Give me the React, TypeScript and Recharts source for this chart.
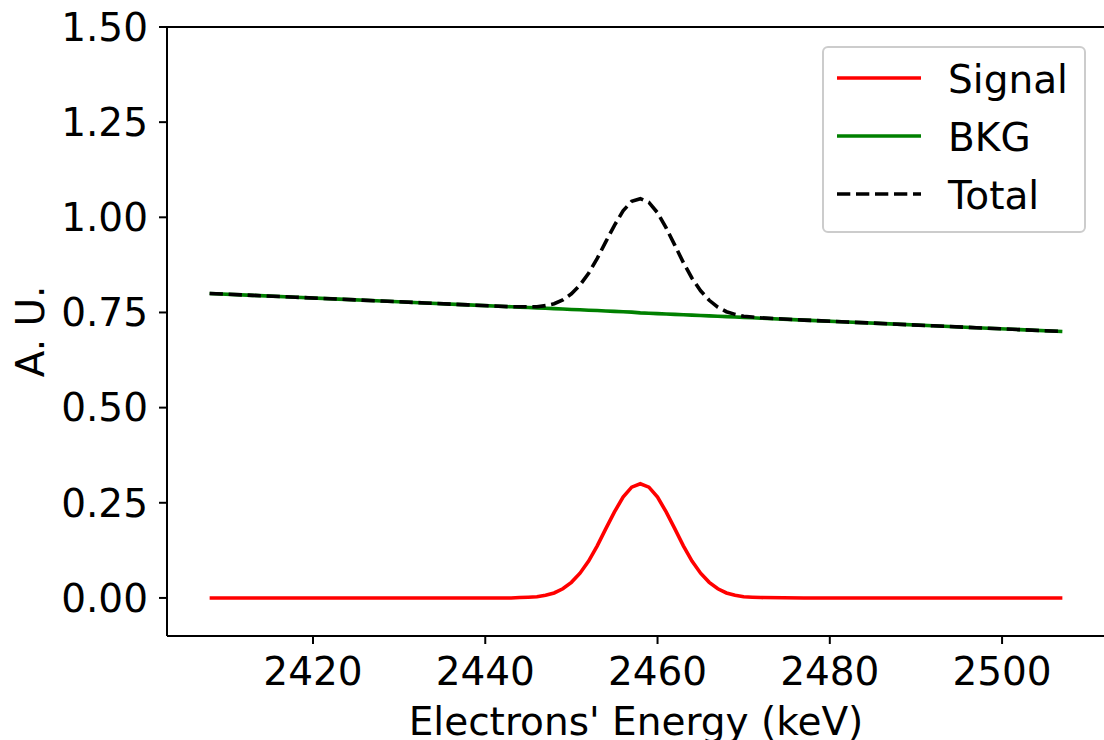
import React from "react";
import {
  Legend,
  Line,
  LineChart,
  ReferenceLine,
  XAxis,
  YAxis,
} from "recharts";

// energy grid (keV), denser around the peak
const energies = [
  2408, 2413, 2418, 2423, 2428, 2433, 2438, 2443,
  2444, 2445, 2446, 2447, 2448, 2449, 2450, 2451, 2452, 2453,
  2454, 2455, 2456, 2457, 2458, 2459, 2460, 2461, 2462, 2463,
  2464, 2465, 2466, 2467, 2468, 2469, 2470, 2471, 2472,
  2477, 2482, 2487, 2492, 2497, 2502, 2507,
];

const signalValues = [
  0, 0, 0, 0, 0, 0, 0, 0,
  0.001, 0.002, 0.003, 0.007, 0.013, 0.024, 0.041, 0.065, 0.097, 0.137,
  0.182, 0.226, 0.265, 0.291, 0.3, 0.291, 0.265, 0.226, 0.182, 0.137,
  0.097, 0.065, 0.041, 0.024, 0.013, 0.007, 0.003, 0.002, 0.001,
  0, 0, 0, 0, 0, 0, 0,
];

const bkgValues = [
  0.8, 0.795, 0.79, 0.785, 0.78, 0.775, 0.77, 0.765,
  0.764, 0.763, 0.762, 0.761, 0.76, 0.759, 0.758, 0.757, 0.756, 0.755,
  0.754, 0.753, 0.752, 0.751, 0.749, 0.748, 0.747, 0.746, 0.745, 0.744,
  0.743, 0.742, 0.741, 0.74, 0.739, 0.738, 0.737, 0.736, 0.735,
  0.73, 0.725, 0.72, 0.715, 0.71, 0.705, 0.7,
];

const totalValues = [
  0.8, 0.795, 0.79, 0.785, 0.78, 0.775, 0.77, 0.765,
  0.765, 0.765, 0.765, 0.768, 0.773, 0.783, 0.799, 0.822, 0.853, 0.892,
  0.936, 0.979, 1.017, 1.042, 1.049, 1.039, 1.012, 0.972, 0.927, 0.881,
  0.84, 0.807, 0.782, 0.764, 0.752, 0.745, 0.74, 0.738, 0.736,
  0.73, 0.725, 0.72, 0.715, 0.71, 0.705, 0.7,
];

const xTicks = [2420, 2440, 2460, 2480, 2500];
const yTicks = [0, 0.25, 0.5, 0.75, 1, 1.25, 1.5];

const X_DOMAIN: [number, number] = [2403.05, 2511.95];
const Y_DOMAIN: [number, number] = [-0.1, 1.5];

const FONT = "'DejaVu Sans', sans-serif";
const FONT_SIZE = 39;

const series = [
  { key: "signal", name: "Signal", color: "#ff0000", dash: undefined },
  { key: "bkg", name: "BKG", color: "#008000", dash: undefined },
  { key: "total", name: "Total", color: "#000000", dash: "13.3 5.7" },
];

const data = energies.map((e, i) => ({
  energy: e,
  signal: signalValues[i],
  bkg: bkgValues[i],
  total: totalValues[i],
}));

function LegendBox() {
  return (
    <div
      style={{
        boxSizing: "border-box",
        width: 264,
        height: 187,
        border: "2px solid #cccccc",
        borderRadius: 6,
        background: "rgba(255,255,255,0.8)",
        position: "relative",
        fontFamily: FONT,
        fontSize: FONT_SIZE,
        color: "#000",
      }}
    >
      {series.map((s, i) => (
        <React.Fragment key={s.key}>
          <svg
            width={84}
            height={8}
            style={{
              position: "absolute",
              left: 12.7,
              top: 26.6 + i * 58,
            }}
          >
            <line
              x1={0}
              x2={84}
              y1={4}
              y2={4}
              stroke={s.color}
              strokeWidth={3.6}
              strokeDasharray={s.dash}
            />
          </svg>
          <span
            style={{
              position: "absolute",
              left: 123.8,
              top: 12.6 + i * 58,
              lineHeight: "39px",
              whiteSpace: "nowrap",
            }}
          >
            {s.name}
          </span>
        </React.Fragment>
      ))}
    </div>
  );
}

export default function App() {
  const tickStyle = {
    fill: "#000",
    fontSize: FONT_SIZE,
    fontFamily: FONT,
  };

  return (
    <div
      style={{
        position: "absolute",
        left: 0,
        top: 0,
        width: 1104,
        height: 740,
        overflow: "hidden",
        background: "#fff",
      }}
    >
      <LineChart
        width={1110}
        height={740}
        data={data}
        margin={{ top: 27, right: 5, bottom: 0, left: 0 }}
      >
        <XAxis
          dataKey="energy"
          type="number"
          domain={X_DOMAIN}
          allowDataOverflow
          ticks={xTicks}
          interval={0}
          height={104}
          stroke="#000"
          axisLine={{ stroke: "#000", strokeWidth: 2 }}
          tickLine={{ stroke: "#000", strokeWidth: 2 }}
          tickSize={8}
          tickMargin={13}
          tick={tickStyle}
          label={{
            content: (props: any) => {
              const vb = props.viewBox || {};
              return (
                <text
                  x={vb.x + vb.width / 2}
                  y={vb.y + 99}
                  textAnchor="middle"
                  fill="#000"
                  fontSize={FONT_SIZE}
                  fontFamily={FONT}
                >
                  Electrons' Energy (keV)
                </text>
              );
            },
          }}
        />
        <YAxis
          type="number"
          domain={Y_DOMAIN}
          allowDataOverflow
          ticks={yTicks}
          interval={0}
          width={167}
          stroke="#000"
          axisLine={{ stroke: "#000", strokeWidth: 2 }}
          tickLine={{ stroke: "#000", strokeWidth: 2 }}
          tickSize={8}
          tickMargin={11}
          tick={tickStyle}
          tickFormatter={(v: number) => v.toFixed(2)}
          label={{
            content: (props: any) => {
              const vb = props.viewBox || {};
              const cx = 43.5;
              const cy = vb.y + vb.height / 2;
              return (
                <text
                  x={cx}
                  y={cy}
                  transform={`rotate(-90, ${cx}, ${cy})`}
                  textAnchor="middle"
                  fill="#000"
                  fontSize={FONT_SIZE}
                  fontFamily={FONT}
                >
                  A. U.
                </text>
              );
            },
          }}
        />
        {/* top and right spines */}
        <ReferenceLine y={1.5} stroke="#000" strokeWidth={2} />
        <ReferenceLine x={X_DOMAIN[1]} stroke="#000" strokeWidth={2} />

        {series.map((s) => (
          <Line
            key={s.key}
            dataKey={s.key}
            name={s.name}
            type="linear"
            stroke={s.color}
            strokeWidth={3.6}
            strokeDasharray={s.dash}
            dot={false}
            activeDot={false}
            isAnimationActive={false}
          />
        ))}

        <Legend
          layout="vertical"
          align="center"
          verticalAlign="middle"
          content={() => <LegendBox />}
          wrapperStyle={{
            position: "absolute",
            left: 822.3,
            top: 45.7,
            width: 264,
            height: 187,
            margin: 0,
          }}
        />
      </LineChart>
    </div>
  );
}
